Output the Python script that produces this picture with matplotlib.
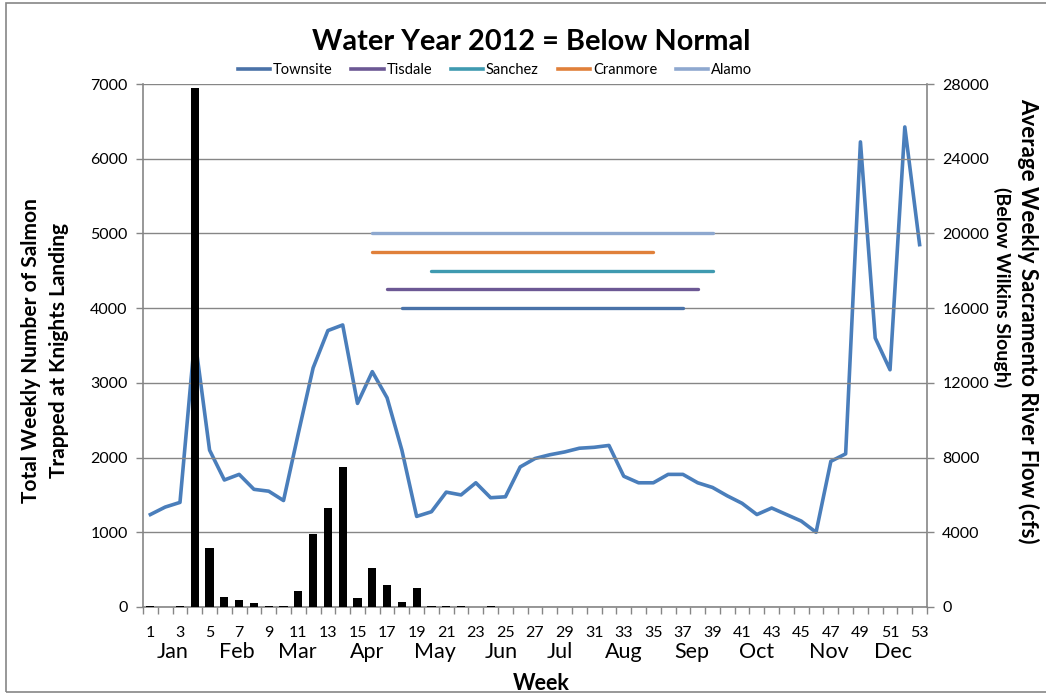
import matplotlib
matplotlib.use("Agg")
import matplotlib.pyplot as plt
from matplotlib.lines import Line2D
from matplotlib.patches import Rectangle
import matplotlib.transforms as mtransforms

plt.rcParams['font.family'] = ['Lato', 'DejaVu Sans']

weeks = list(range(1, 54))
salmon = [10, 0, 10, 6950, 790, 130, 100, 50, 12, 12,
          210, 975, 1325, 1880, 120, 525, 290, 65, 255, 12,
          12, 12, 0, 12, 0, 0, 0, 0, 0, 0,
          0, 0, 0, 0, 0, 0, 0, 0, 0, 0,
          0, 0, 0, 0, 0, 0, 0, 0, 0, 0,
          0, 0, 0]
flow = [4950, 5350, 5600, 14400, 8400, 6800, 7100, 6300, 6200, 5700,
        9300, 12800, 14800, 15100, 10900, 12600, 11200, 8400, 4850, 5100,
        6150, 6000, 6650, 5850, 5900, 7500, 7950, 8150, 8300, 8500,
        8550, 8650, 7000, 6650, 6650, 7100, 7100, 6650, 6400, 5950,
        5550, 4950, 5300, 4950, 4600, 4000, 7800, 8200, 24900, 14400,
        12700, 25700, 19400]

stations = ["Townsite", "Tisdale", "Sanchez", "Cranmore", "Alamo"]
station_level = [4000, 4250, 4500, 4750, 5000]
station_start = [18, 17, 20, 16, 16]
station_end = [37, 38, 39, 35, 39]
station_colors = ["#4A72A8", "#6C5894", "#3F9AB0", "#E0803A", "#8EA8CF"]

months = ["Jan", "Feb", "Mar", "Apr", "May", "Jun", "Jul", "Aug", "Sep", "Oct", "Nov", "Dec"]
month_pos = [2.5, 6.85, 10.9, 15.65, 20.25, 24.7, 28.7, 33.0, 37.6, 42.0, 46.9, 51.2]

left_ticks = list(range(0, 7001, 1000))
right_ticks = list(range(0, 28001, 4000))

grey = "#868686"

fig = plt.figure(figsize=(10.46, 6.94), dpi=100)
ax = fig.add_axes([143/1046, 1-607/694, (927-143)/1046, (607-84)/694])
ax2 = ax.twinx()
ax.set_zorder(ax2.get_zorder() + 1)
ax.patch.set_visible(False)

ax.set_ylim(0, 7000)
ax.set_xlim(0.5, 53.5)
ax.set_yticks(left_ticks)
ax.yaxis.grid(True, color=grey, linewidth=1.0)
ax.set_axisbelow(True)

ax.bar(weeks, salmon, width=0.55, color="black", zorder=3)
for name, lev, s, e, c in zip(stations, station_level, station_start, station_end, station_colors):
    ax.plot([s, e], [lev, lev], color=c, linewidth=2.4, solid_capstyle="round", zorder=4)

ax2.set_ylim(0, 28000)
ax2.set_yticks(right_ticks)
ax2.plot(weeks, flow, color="#4A7EBB", linewidth=2.6, zorder=2)

for a in (ax, ax2):
    a.spines['top'].set_visible(False)
    for s in ('left', 'right', 'bottom'):
        a.spines[s].set_color(grey)
        a.spines[s].set_linewidth(1.2)
ax.spines['right'].set_visible(False)
ax2.spines['left'].set_visible(False)
ax2.spines['bottom'].set_visible(False)

ax.tick_params(axis='y', colors=grey, length=5, width=1, labelcolor="black", labelsize=11.5, pad=6)
ax2.tick_params(axis='y', colors=grey, length=5, width=1, labelcolor="black", labelsize=11.5, pad=6)

ax.set_xticks([w + 0.5 for w in [0] + weeks])
ax.set_xticklabels([])
ax.tick_params(axis='x', which='major', colors=grey, length=5, width=1)
ax.set_xticks(weeks[::2], minor=True)
ax.set_xticklabels([str(w) for w in weeks[::2]], minor=True)
ax.tick_params(axis='x', which='minor', length=0, labelsize=11.5, pad=14, labelcolor="black")

trans = mtransforms.blended_transform_factory(ax.transData, fig.transFigure)
for m, p in zip(months, month_pos):
    ax.text(p, 1-652/694, m, transform=trans, ha="center", va="center", fontsize=15.5)

fig.text(541/1046, 1-683/694, "Week", ha="center", va="center", fontsize=15.5, fontweight="bold")

fig.text(531/1046, 1-42/694, "Water Year 2012 = Below Normal", ha="center", va="center",
         fontsize=20.8, fontweight="bold")

handles = [Line2D([0], [0], color=c, linewidth=2.6) for c in station_colors]
fig.legend(handles, stations, loc="center", bbox_to_anchor=(495/1046, 1-70/694), ncol=5,
           frameon=False, fontsize=10.5, handlelength=2.2, handletextpad=0.2, columnspacing=1.3)

fig.text(45/1046, 1-351/694, "Total Weekly Number of Salmon\nTrapped at Knights Landing",
         rotation=90, ha="center", va="center", fontsize=15, fontweight="bold", linespacing=1.45)
fig.text(1028/1046, 1-321/694, "Average Weekly Sacramento River Flow (cfs)",
         rotation=270, ha="center", va="center", fontsize=16, fontweight="bold")
fig.text(1002/1046, 1-287/694, "(Below Wilkins Slough)",
         rotation=270, ha="center", va="center", fontsize=14, fontweight="bold")

fig.patches.append(Rectangle((6/1046, 0.003), 1.2, 0.993, transform=fig.transFigure,
                             fill=False, edgecolor=grey, linewidth=1.2))

fig.savefig("out.png", dpi=100)
